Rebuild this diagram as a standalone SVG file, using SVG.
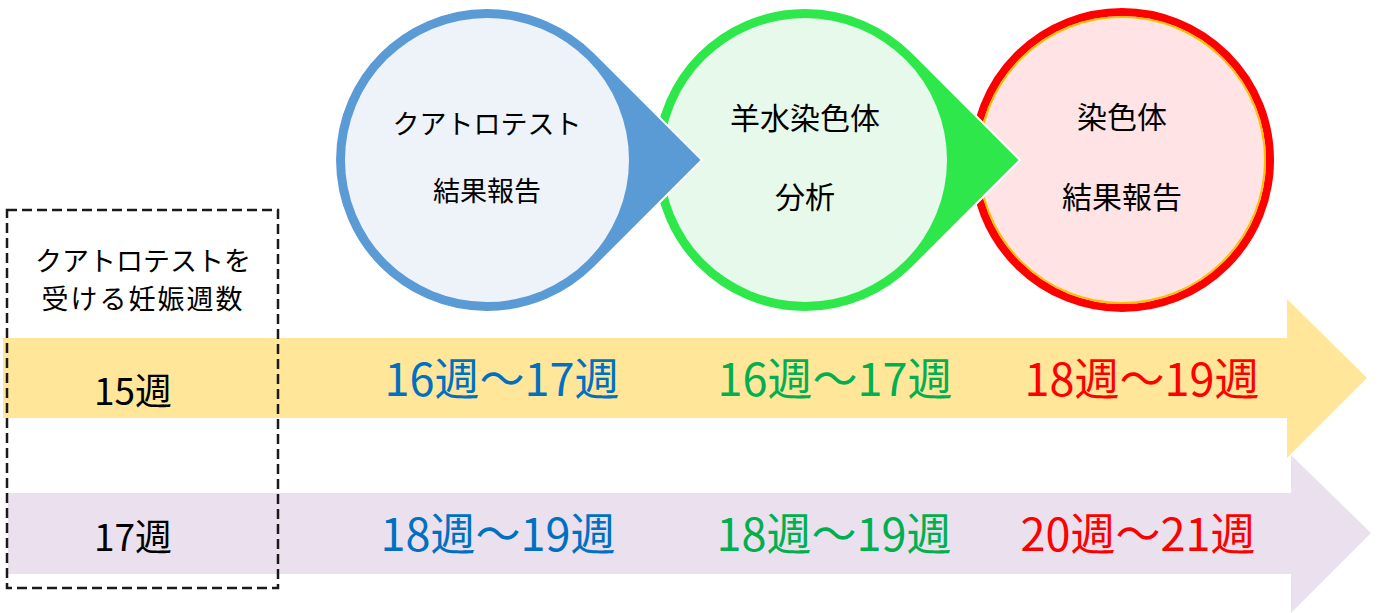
<svg xmlns="http://www.w3.org/2000/svg" width="1378" height="613" viewBox="0 0 1378 613">
<style>
text{font-family:"Noto Sans CJK JP","Noto Sans",sans-serif;text-anchor:middle}
.t{font-size:27px;fill:#000}
.c{font-size:30px;fill:#000}
.wk{font-size:37px;fill:#000}
.lb{font-size:45px}
.b{fill:#0070C0}.g{fill:#00B050}.r{fill:#FF0000}
</style>
<rect width="1378" height="613" fill="#fff"/>
<g id="bands">
<polygon id="band17" points="8,493 1291,493 1291,455 1371,533 1291,613 1291,574 8,574" fill="#EBE0EE"/>
<polygon id="band15" points="3,338 1287,338 1287,299 1367,378 1287,458 1287,418 3,418" fill="#FFE699"/>
</g>
<g id="node-red">
<circle cx="1122" cy="160" r="148" fill="#FFE3E5" stroke="#FF0000" stroke-width="8"/>
<circle cx="1122" cy="160" r="143" fill="none" stroke="#FFC000" stroke-width="2"/>
<text class="c" x="1122" y="128">染色体</text>
<text class="c" x="1122" y="208">結果報告</text>
</g>
<g id="node-green">
<path d="M1020,160 L912.5,52.5 A152,152 0 1 0 912.5,267.5 Z" fill="#2EE84B" stroke="#fff" stroke-width="2"/>
<circle cx="805" cy="160" r="142" fill="#E6F9EA"/>
<text class="c" x="805" y="129">羊水染色体</text>
<text class="c" x="805" y="208">分析</text>
</g>
<g id="node-blue">
<path d="M702,160 L594.5,52.5 A152,152 0 1 0 594.5,267.5 Z" fill="#5B9BD5" stroke="#fff" stroke-width="2"/>
<circle cx="487" cy="160" r="142" fill="#EEF3FA"/>
<text class="t" x="487" y="134">クアトロテスト</text>
<text class="t" x="487" y="201">結果報告</text>
</g>
<g id="labels">
<text class="lb b" x="502" y="396">16週～17週</text>
<text class="lb g" x="835" y="396">16週～17週</text>
<text class="lb r" x="1142" y="396">18週～19週</text>
<text class="lb b" x="498" y="551">18週～19週</text>
<text class="lb g" x="834" y="551">18週～19週</text>
<text class="lb r" x="1138" y="551">20週～21週</text>
</g>
<g id="node-weeks">
<rect x="7" y="210" width="271" height="378" fill="none" stroke="#1a1a1a" stroke-width="2.5" stroke-dasharray="10,5"/>
<text class="t" x="143" y="271">クアトロテストを</text>
<text class="t" x="143" y="309" letter-spacing="2">受ける妊娠週数</text>
<text class="wk" x="133" y="405">15週</text>
<text class="wk" x="133" y="551">17週</text>
</g>
</svg>
